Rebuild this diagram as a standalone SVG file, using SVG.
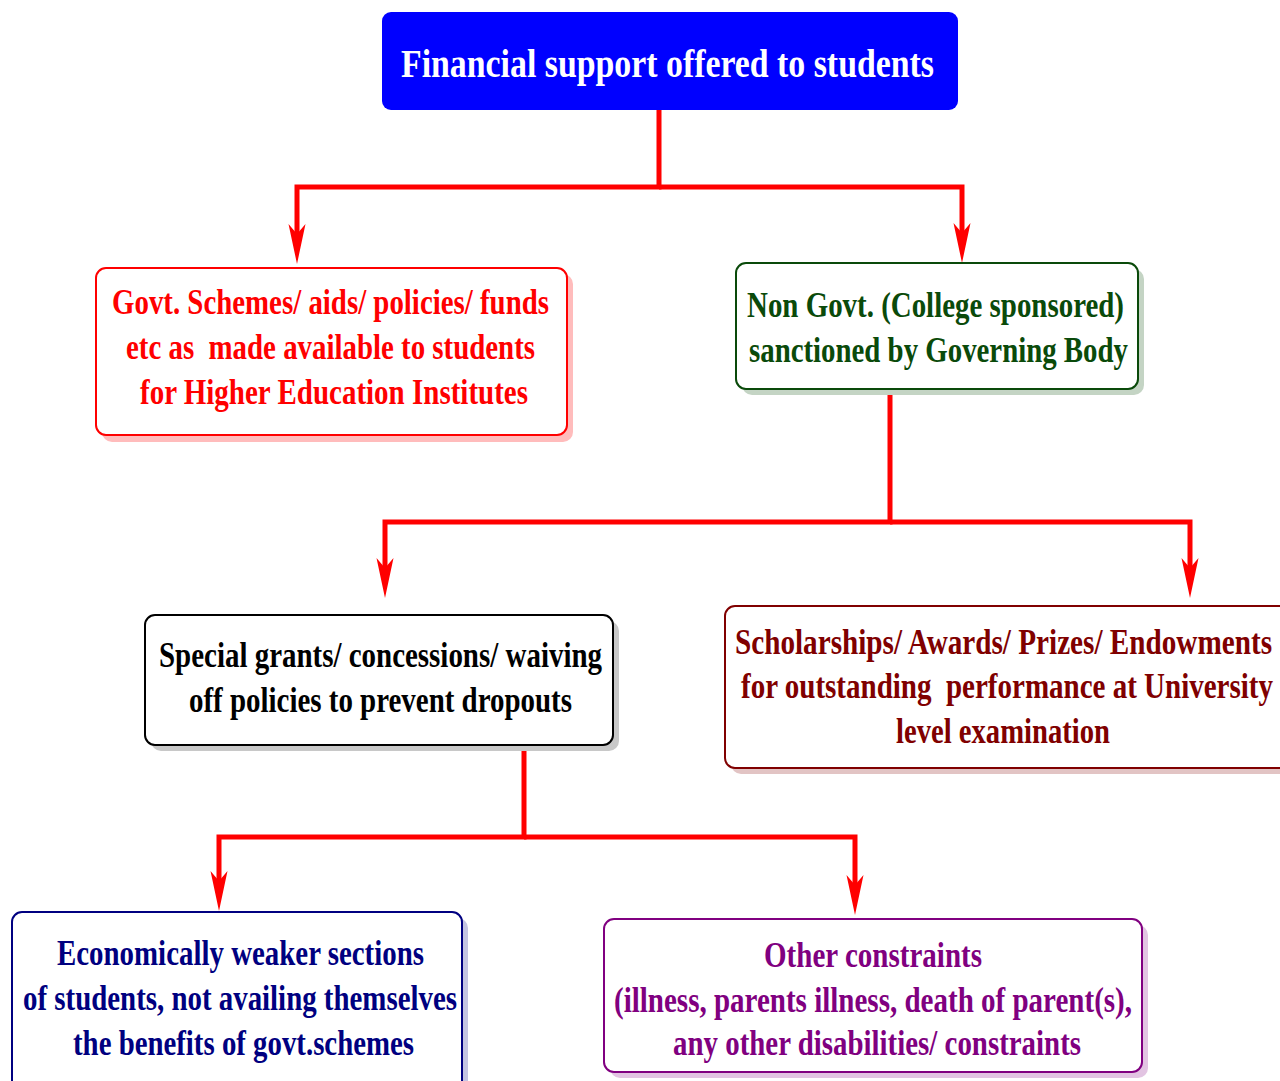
<svg xmlns="http://www.w3.org/2000/svg" width="1280" height="1081" viewBox="0 0 1280 1081">
<style>
text{font-family:"Liberation Serif","Times New Roman",serif;font-weight:bold;}
.box{stroke-width:2;fill:#fff;}
.conn{fill:none;stroke:#ff0000;stroke-width:5;stroke-linejoin:miter;}
.t{font-size:35px;}
.pre{white-space:pre;}
</style>
<defs>
<marker id="ah" markerUnits="userSpaceOnUse" viewBox="0 -9 41 18" refX="10" refY="0" markerWidth="41" markerHeight="18" orient="auto">
<path d="M0,-8.5 L10,0 L0,8.5 L40,0 Z" fill="#ff0000"/>
</marker>
</defs>
<rect width="1280" height="1081" fill="#fff"/>

<g id="connectors">
<path class="conn" d="M659,110 V187 H297 V234" marker-end="url(#ah)"/>
<path class="conn" d="M659,187 H962 V233" marker-end="url(#ah)"/>
<path class="conn" d="M890,389 V522 H385 V568" marker-end="url(#ah)"/>
<path class="conn" d="M890,522 H1190 V568" marker-end="url(#ah)"/>
<path class="conn" d="M524,745 V837 H219 V881" marker-end="url(#ah)"/>
<path class="conn" d="M524,837 H855 V885" marker-end="url(#ah)"/>
</g>

<g id="root">
<rect x="382" y="12" width="576" height="98" rx="9" fill="#0000ff"/>
<text x="401" y="77" font-size="40" fill="#fff" textLength="533" lengthAdjust="spacingAndGlyphs">Financial support offered to students</text>
</g>

<g id="govt">
<rect x="102" y="274" width="471" height="168" rx="10" fill="#ffbcbc"/>
<rect class="box" x="96" y="268" width="471" height="167" rx="10" stroke="#ff0000"/>
<g class="t" fill="#ff0000">
<text x="112" y="314" textLength="437" lengthAdjust="spacingAndGlyphs">Govt. Schemes/ aids/ policies/ funds</text>
<text class="pre" x="126" y="359" textLength="409" lengthAdjust="spacingAndGlyphs">etc as  made available to students</text>
<text x="140" y="404" textLength="388" lengthAdjust="spacingAndGlyphs">for Higher Education Institutes</text>
</g>
</g>

<g id="nongovt">
<rect x="742" y="269" width="402" height="126" rx="10" fill="#c4d4c4"/>
<rect class="box" x="736" y="263" width="402" height="126" rx="10" stroke="#0a4a0a"/>
<g class="t" fill="#0a4a0a">
<text x="747" y="317" textLength="377" lengthAdjust="spacingAndGlyphs">Non Govt. (College sponsored)</text>
<text x="749" y="362" textLength="379" lengthAdjust="spacingAndGlyphs">sanctioned by Governing Body</text>
</g>
</g>

<g id="special">
<rect x="151" y="621" width="468" height="130" rx="10" fill="#c8c8c8"/>
<rect class="box" x="145" y="615" width="468" height="130" rx="10" stroke="#000"/>
<g class="t" fill="#000">
<text x="159" y="667" textLength="443" lengthAdjust="spacingAndGlyphs">Special grants/ concessions/ waiving</text>
<text x="189" y="712" textLength="383" lengthAdjust="spacingAndGlyphs">off policies to prevent dropouts</text>
</g>
</g>

<g id="scholarships">
<rect x="731" y="612" width="570" height="162" rx="10" fill="#e2c4c4"/>
<rect class="box" x="725" y="606" width="570" height="162" rx="10" stroke="#800000"/>
<g fill="#800000">
<text transform="translate(735,654) scale(1,1.207)" x="0" y="0" font-size="29" textLength="537" lengthAdjust="spacingAndGlyphs">Scholarships/ Awards/ Prizes/ Endowments</text>
<text class="pre" transform="translate(741,698) scale(1,1.207)" x="0" y="0" font-size="29" textLength="532" lengthAdjust="spacingAndGlyphs">for outstanding  performance at University</text>
<text class="t" x="896" y="743" textLength="214" lengthAdjust="spacingAndGlyphs">level examination</text>
</g>
</g>

<g id="economically">
<rect x="18" y="918" width="450" height="180" rx="10" fill="#c4c4e2"/>
<rect class="box" x="12" y="912" width="450" height="180" rx="10" stroke="#000080"/>
<g class="t" fill="#000080">
<text x="57" y="965" textLength="367" lengthAdjust="spacingAndGlyphs">Economically weaker sections</text>
<text x="23" y="1010" textLength="434" lengthAdjust="spacingAndGlyphs">of students, not availing themselves</text>
<text x="73" y="1055" textLength="341" lengthAdjust="spacingAndGlyphs">the benefits of govt.schemes</text>
</g>
</g>

<g id="other">
<rect x="610" y="925" width="538" height="153" rx="10" fill="#e2c4e2"/>
<rect class="box" x="604" y="919" width="538" height="153" rx="10" stroke="#800080"/>
<g class="t" fill="#800080">
<text x="764" y="967" textLength="218" lengthAdjust="spacingAndGlyphs">Other constraints</text>
<text x="614" y="1012" textLength="518" lengthAdjust="spacingAndGlyphs">(illness, parents illness, death of parent(s),</text>
<text x="673" y="1055" textLength="408" lengthAdjust="spacingAndGlyphs">any other disabilities/ constraints</text>
</g>
</g>
</svg>
